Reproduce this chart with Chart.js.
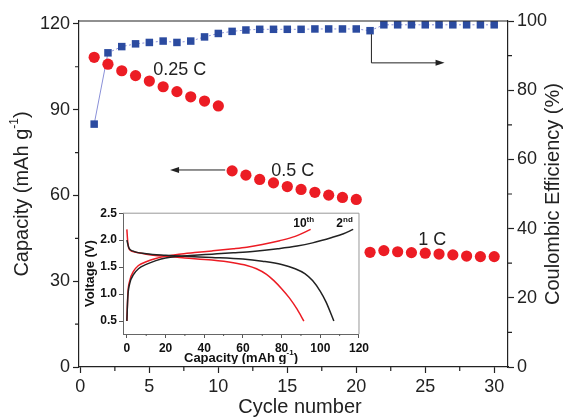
<!DOCTYPE html>
<html>
<head>
<meta charset="utf-8">
<script src="https://cdn.jsdelivr.net/npm/chart.js@4.4.0/dist/chart.umd.min.js"></script>
<style>
  html, body { margin: 0; padding: 0; background: #fff; }
  #wrap { position: relative; width: 569px; height: 418px; }
  #main { position: absolute; left: 0; top: 0; }
  #inset { position: absolute; left: 82px; top: 204px; }
</style>
</head>
<body>
<div id="wrap">
  <canvas id="main" width="569" height="418"></canvas>
  <canvas id="inset" width="290" height="160"></canvas>
</div>
<script>
// main plot data: capacity (left axis) and coulombic efficiency (right axis) per cycle
const cycles = [1, 2, 3, 4, 5, 6, 7, 8, 9, 10, 11, 12, 13, 14, 15, 16, 17, 18, 19, 20, 21, 22, 23, 24, 25, 26, 27, 28, 29, 30];
const capacity = [108.3, 105.9, 103.6, 101.9, 100.0, 98.0, 96.3, 94.5, 93.0, 91.3,
                  68.6, 67.1, 65.6, 64.4, 63.1, 62.1, 61.1, 60.1, 59.3, 58.6,
                  40.1, 40.7, 40.3, 40.0, 39.8, 39.5, 39.2, 38.8, 38.6, 38.6];
const efficiency = [70.2, 90.8, 92.6, 93.4, 93.8, 94.2, 93.8, 94.2, 95.4, 96.4,
                    97.0, 97.4, 97.6, 97.6, 97.6, 97.6, 97.7, 97.7, 97.7, 97.7,
                    97.2, 98.9, 98.9, 98.9, 98.9, 98.9, 98.9, 98.9, 98.9, 98.9];

const cycleTicks = [0, 5, 10, 15, 20, 25, 30];
const cycleMinor = [2.5, 7.5, 12.5, 17.5, 22.5, 27.5];
const capacityTicks = [0, 30, 60, 90, 120];
const capacityMinor = [15, 45, 75, 105];
const efficiencyTicks = [0, 20, 40, 60, 80, 100];
const efficiencyMinor = [10, 30, 50, 70, 90];

// inset: voltage profiles, 2nd and 10th cycle
const charge2Cap = [0, 0.5, 1.5, 3.4, 6, 10, 15, 20, 27, 35, 44, 55, 65, 78, 88, 96, 106, 112, 117];
const charge2V = [0.5, 0.95, 1.2, 1.36, 1.47, 1.55, 1.62, 1.67, 1.70, 1.72, 1.74, 1.765, 1.79, 1.84, 1.89, 1.95, 2.05, 2.12, 2.2];
const discharge2Cap = [0, 1, 3, 10, 20, 30, 44, 60, 70, 80, 87, 92, 96, 100, 103, 107];
const discharge2V = [2.0, 1.86, 1.8, 1.75, 1.72, 1.70, 1.68, 1.65, 1.61, 1.55, 1.47, 1.38, 1.25, 1.05, 0.85, 0.5];
const charge10Cap = [0, 0.5, 1.5, 3.4, 6, 10, 15, 20, 27, 35, 44, 55, 62, 70, 79, 87, 95];
const charge10V = [0.5, 1.0, 1.25, 1.42, 1.53, 1.6, 1.66, 1.7, 1.74, 1.77, 1.8, 1.84, 1.87, 1.92, 1.99, 2.07, 2.2];
const discharge10Cap = [0, 0.5, 1.5, 4, 10, 20, 30, 44, 55, 62, 67, 72, 76, 80, 84, 88, 91.5];
const discharge10V = [2.2, 1.95, 1.82, 1.78, 1.74, 1.70, 1.67, 1.63, 1.58, 1.53, 1.47, 1.37, 1.25, 1.1, 0.93, 0.72, 0.5];

const insetCapTicks = [0, 20, 40, 60, 80, 100, 120];
const insetCapMinor = [10, 30, 50, 70, 90, 110];
const voltageTicks = [0.5, 1.0, 1.5, 2.0, 2.5];

const FONT = '"Liberation Sans", Arial, sans-serif';
const RED = '#ec1c24';
const BLUE = '#2b4ba0';
const INK = '#222';

function toPoints(xs, ys) {
    return xs.map((x, i) => ({ x: x, y: ys[i] }));
}

function fixedTicks(values) {
    return scale => { scale.ticks = values.map(v => ({ value: v })); };
}

// draws text with optional superscript parts, centred on x,y
function drawRich(ctx, parts, x, y, size, weight) {
    const main = weight + ' ' + size + 'px ' + FONT;
    const sup = weight + ' ' + Math.round(size * 0.62) + 'px ' + FONT;
    let total = 0;
    const widths = parts.map(p => {
        ctx.font = p[1] ? sup : main;
        const w = ctx.measureText(p[0]).width;
        total += w;
        return w;
    });
    ctx.textAlign = 'left';
    ctx.textBaseline = 'middle';
    let cx = x - total / 2;
    parts.forEach((p, i) => {
        ctx.font = p[1] ? sup : main;
        ctx.fillText(p[0], cx, p[1] ? y - size * 0.38 : y);
        cx += widths[i];
    });
}

function drawMinorTicks(ctx, scale, values, len, side) {
    ctx.beginPath();
    values.forEach(v => {
        const p = scale.getPixelForValue(v);
        if (side === 'bottom') { ctx.moveTo(p, scale.top); ctx.lineTo(p, scale.top + len); }
        if (side === 'left') { ctx.moveTo(scale.right, p); ctx.lineTo(scale.right - len, p); }
        if (side === 'right') { ctx.moveTo(scale.left, p); ctx.lineTo(scale.left + len, p); }
    });
    ctx.stroke();
}

function arrowHead(ctx, x, y, dir) {
    ctx.beginPath();
    ctx.moveTo(x, y);
    ctx.lineTo(x - dir * 9, y - 3);
    ctx.lineTo(x - dir * 9, y + 3);
    ctx.closePath();
    ctx.fill();
}

const mainDecor = {
    id: 'mainDecor',
    afterDraw(chart) {
        const ctx = chart.ctx;
        const a = chart.chartArea;
        const sx = chart.scales.x, sy = chart.scales.y, sy1 = chart.scales.y1;
        ctx.save();
        ctx.strokeStyle = INK;
        ctx.fillStyle = INK;
        ctx.lineWidth = 1.2;
        // top frame
        ctx.beginPath();
        ctx.moveTo(a.left, a.top);
        ctx.lineTo(a.right, a.top);
        ctx.stroke();
        drawMinorTicks(ctx, sx, cycleMinor, 4, 'bottom');
        drawMinorTicks(ctx, sy, capacityMinor, 4, 'left');
        drawMinorTicks(ctx, sy1, efficiencyMinor, 4, 'right');

        // axis titles
        drawRich(ctx, [['Cycle number', false]], 300, 407, 20, 'normal');
        ctx.save();
        ctx.translate(22, (a.top + a.bottom) / 2);
        ctx.rotate(-Math.PI / 2);
        drawRich(ctx, [['Capacity (mAh g', false], ['-1', true], [')', false]], 0, 0, 20, 'normal');
        ctx.restore();
        ctx.save();
        ctx.translate(553, (a.top + a.bottom) / 2);
        ctx.rotate(-Math.PI / 2);
        drawRich(ctx, [['Coulombic Efficiency (%)', false]], 0, 0, 20, 'normal');
        ctx.restore();

        // rate labels
        drawRich(ctx, [['0.25 C', false]], sx.getPixelForValue(7.2), sy.getPixelForValue(103.9), 18, 'normal');
        drawRich(ctx, [['0.5 C', false]], sx.getPixelForValue(15.4), sy.getPixelForValue(68.5), 18, 'normal');
        drawRich(ctx, [['1 C', false]], sx.getPixelForValue(25.5), sy.getPixelForValue(44.4), 18, 'normal');

        // arrow to left axis
        ctx.lineWidth = 1;
        const ly = sy.getPixelForValue(68.9);
        const lx0 = sx.getPixelForValue(10.5), lx1 = sx.getPixelForValue(6.5);
        ctx.beginPath();
        ctx.moveTo(lx0, ly);
        ctx.lineTo(lx1 + 6, ly);
        ctx.stroke();
        arrowHead(ctx, lx1, ly, -1);

        // arrow to right axis
        const rx0 = sx.getPixelForValue(21.1), rx1 = sx.getPixelForValue(26.4);
        const ry0 = sy1.getPixelForValue(96.2), ry1 = sy1.getPixelForValue(87.9);
        ctx.beginPath();
        ctx.moveTo(rx0, ry0);
        ctx.lineTo(rx0, ry1);
        ctx.lineTo(rx1 - 6, ry1);
        ctx.stroke();
        arrowHead(ctx, rx1, ry1, 1);
        ctx.restore();
    }
};

new Chart(document.getElementById('main'), {
    type: 'scatter',
    data: {
        datasets: [{
            label: 'Capacity',
            data: toPoints(cycles, capacity),
            yAxisID: 'y',
            pointStyle: 'circle',
            pointRadius: 5.6,
            pointBackgroundColor: RED,
            pointBorderWidth: 0,
            showLine: false,
        }, {
            label: 'Coulombic efficiency',
            data: toPoints(cycles, efficiency),
            yAxisID: 'y1',
            pointStyle: 'rect',
            pointRadius: 5.3,
            pointBackgroundColor: BLUE,
            pointBorderWidth: 0,
            showLine: true,
            borderColor: '#8a90d8',
            borderWidth: 1,
            borderDash: [2, 2.5],
            segment: {
                borderDash: ctx => ctx.p0DataIndex === 0 ? [] : [2, 2.5]
            }
        }]
    },
    options: {
        responsive: false,
        animation: false,
        devicePixelRatio: 1,
        layout: { padding: { top: 21, left: 0, right: 0, bottom: 0 } },
        plugins: {
            legend: { display: false },
            tooltip: { enabled: false }
        },
        scales: {
            x: {
                type: 'linear',
                min: -0.1,
                max: 31,
                afterBuildTicks: fixedTicks(cycleTicks),
                afterFit: s => { s.height = 51; },
                grid: { drawOnChartArea: false, tickLength: 6, color: INK, tickWidth: 1.2 },
                border: { color: INK, width: 1.2 },
                ticks: { font: { family: FONT, size: 18 }, color: INK, padding: 3, maxRotation: 0, autoSkip: false }
            },
            y: {
                position: 'left',
                min: 0,
                max: 121,
                afterBuildTicks: fixedTicks(capacityTicks),
                afterFit: s => { s.width = 79; },
                grid: { drawOnChartArea: false, tickLength: 6, color: INK, tickWidth: 1.2 },
                border: { color: INK, width: 1.2 },
                ticks: { font: { family: FONT, size: 18 }, color: INK, padding: 3 }
            },
            y1: {
                position: 'right',
                min: 0,
                max: 100,
                afterBuildTicks: fixedTicks(efficiencyTicks),
                afterFit: s => { s.width = 61; },
                grid: { drawOnChartArea: false, tickLength: 6, color: INK, tickWidth: 1.2 },
                border: { color: INK, width: 1.2 },
                ticks: { font: { family: FONT, size: 18 }, color: INK, padding: 3 }
            }
        }
    },
    plugins: [mainDecor]
});

// inset chart
const insetDecor = {
    id: 'insetDecor',
    beforeDraw(chart) {
        const ctx = chart.ctx;
        const a = chart.chartArea;
        ctx.save();
        ctx.fillStyle = '#fff';
        ctx.fillRect(a.left, a.top, a.right - a.left, a.bottom - a.top);
        ctx.restore();
    },
    afterDraw(chart) {
        const ctx = chart.ctx;
        const a = chart.chartArea;
        const sx = chart.scales.x, sy = chart.scales.y;
        ctx.save();
        ctx.strokeStyle = '#999';
        ctx.lineWidth = 1;
        ctx.beginPath();
        ctx.moveTo(a.left, a.top);
        ctx.lineTo(a.right, a.top);
        ctx.lineTo(a.right, a.bottom);
        ctx.stroke();
        ctx.strokeStyle = '#555';
        drawMinorTicks(ctx, sx, insetCapMinor, 2, 'bottom');
        ctx.fillStyle = '#111';
        drawRich(ctx, [['Capacity (mAh g', false], ['-1', true], [')', false]], (a.left + a.right) / 2, 154, 13, 'bold');
        ctx.save();
        ctx.translate(8, (a.top + a.bottom) / 2);
        ctx.rotate(-Math.PI / 2);
        drawRich(ctx, [['Voltage (V)', false]], 0, 0, 13, 'bold');
        ctx.restore();
        ctx.textAlign = 'left';
        ctx.textBaseline = 'middle';
        ctx.font = 'bold 12px ' + FONT;
        let x = sx.getPixelForValue(86), y = sy.getPixelForValue(2.31);
        ctx.fillText('10', x, y);
        let w = ctx.measureText('10').width;
        ctx.font = 'bold 8px ' + FONT;
        ctx.fillText('th', x + w, y - 4);
        ctx.font = 'bold 12px ' + FONT;
        x = sx.getPixelForValue(108.3);
        ctx.fillText('2', x, y);
        w = ctx.measureText('2').width;
        ctx.font = 'bold 8px ' + FONT;
        ctx.fillText('nd', x + w, y - 4);
        ctx.restore();
    }
};

function curve(xs, ys, colour) {
    return {
        data: toPoints(xs, ys),
        borderColor: colour,
        borderWidth: 1.5,
        pointRadius: 0,
        showLine: true,
        cubicInterpolationMode: 'monotone'
    };
}

new Chart(document.getElementById('inset'), {
    type: 'scatter',
    data: {
        datasets: [
            curve(charge2Cap, charge2V, INK),
            curve(discharge2Cap, discharge2V, INK),
            curve(charge10Cap, charge10V, RED),
            curve(discharge10Cap, discharge10V, RED)
        ]
    },
    options: {
        responsive: false,
        animation: false,
        devicePixelRatio: 1,
        layout: { padding: { top: 7, right: 9, left: 0, bottom: 0 } },
        plugins: {
            legend: { display: false },
            tooltip: { enabled: false }
        },
        scales: {
            x: {
                type: 'linear',
                min: -2,
                max: 120,
                afterBuildTicks: fixedTicks(insetCapTicks),
                afterFit: s => { s.height = 30; },
                grid: { drawOnChartArea: false, tickLength: 4, color: '#555' },
                border: { color: '#666', width: 1 },
                ticks: { font: { family: FONT, size: 12, weight: 'bold' }, color: '#111', padding: 3, maxRotation: 0, autoSkip: false }
            },
            y: {
                min: 0.26,
                max: 2.5,
                afterBuildTicks: fixedTicks(voltageTicks),
                afterFit: s => { s.width = 41; },
                grid: { drawOnChartArea: false, tickLength: 4, color: '#555' },
                border: { color: '#666', width: 1 },
                ticks: { font: { family: FONT, size: 12, weight: 'bold' }, color: '#111', padding: 2, callback: v => v.toFixed(1) }
            }
        }
    },
    plugins: [insetDecor]
});
</script>
</body>
</html>
